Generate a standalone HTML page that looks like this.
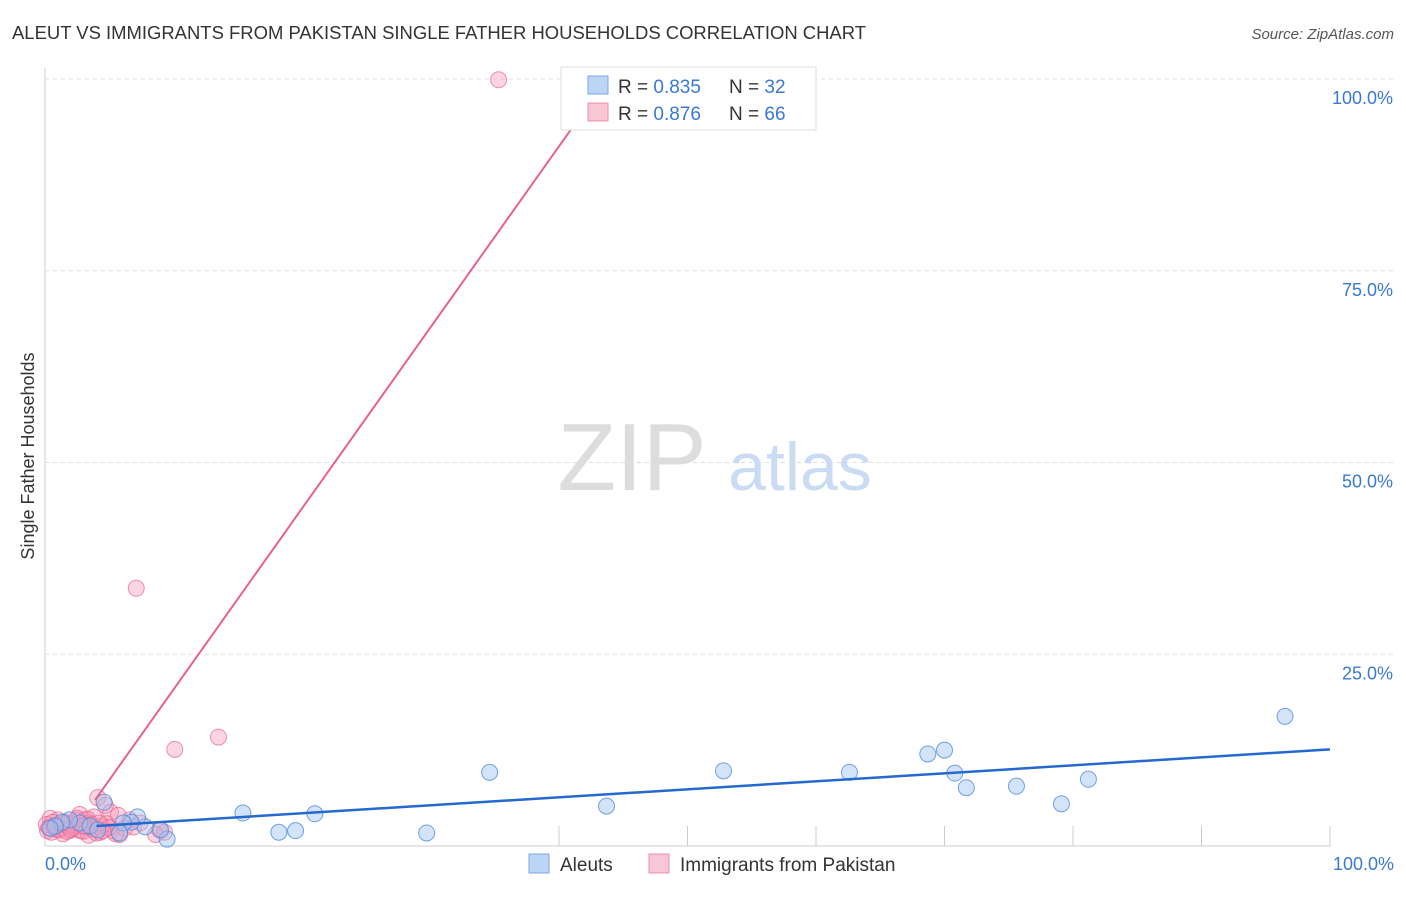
<!DOCTYPE html>
<html><head><meta charset="utf-8"><style>
body{margin:0;background:#fff;font-family:"Liberation Sans",sans-serif;}
svg text{font-family:"Liberation Sans",sans-serif;}
</style></head><body>
<svg width="1406" height="892">
<text x="12" y="39" font-size="18" fill="#333" textLength="854" lengthAdjust="spacingAndGlyphs">ALEUT VS IMMIGRANTS FROM PAKISTAN SINGLE FATHER HOUSEHOLDS CORRELATION CHART</text>
<text x="1394" y="39" font-size="15" fill="#555" text-anchor="end" font-style="italic">Source: ZipAtlas.com</text>
<g id="grid"></g>
<text x="632" y="490" font-size="96" fill="#ddd" font-family="Liberation Serif" text-anchor="middle">ZIP</text>
<text x="800" y="490" font-size="68" fill="#c9dcf3" text-anchor="middle">atlas</text>
<g id="pts"></g>
<g id="lines"></g>
<text transform="translate(34,456) rotate(-90)" font-size="18" fill="#333" text-anchor="middle">Single Father Households</text>
<text x="45" y="870" font-size="18" fill="#3a78d4">0.0%</text>
<text x="1394" y="870" font-size="18" fill="#3a78d4" text-anchor="end">100.0%</text>
<g>
<rect x="561" y="67" width="255" height="63" fill="#fff" stroke="#ddd"/>
<rect x="588" y="76" width="20" height="18" fill="#bcd5f5" stroke="#7aa7e6"/>
<rect x="588" y="103" width="20" height="18" fill="#f9c6d5" stroke="#ec8fae"/>
<text x="618" y="93" font-size="19" fill="#333">R = <tspan fill="#3a78d4">0.835</tspan></text>
<text x="729" y="93" font-size="19" fill="#333">N = <tspan fill="#3a78d4">32</tspan></text>
<text x="618" y="120" font-size="19" fill="#333">R = <tspan fill="#3a78d4">0.876</tspan></text>
<text x="729" y="120" font-size="19" fill="#333">N = <tspan fill="#3a78d4">66</tspan></text>
</g>
<g>
<rect x="529" y="854" width="20" height="19" fill="#bcd5f5" stroke="#7aa7e6"/>
<text x="560" y="871" font-size="19" fill="#333">Aleuts</text>
<rect x="649" y="854" width="20" height="19" fill="#f9c6d5" stroke="#ec8fae"/>
<text x="680" y="871" font-size="19" fill="#333">Immigrants from Pakistan</text>
</g>
</svg>
<script>
const yTicks=[25,50,75,100];
const yTickLabels=["25.0%","50.0%","75.0%","100.0%"];
const xTicks=[40,50,60,70,80,90,100];
const aleutX=[96.5,70.0,68.7,70.8,71.7,81.2,75.6,79.1,52.8,62.6,34.6,43.7,29.7,21.0,19.5,18.2,15.4,9.5,9.0,7.8,7.2,6.7,6.1,5.8,4.6,2.7,1.9,1.3,0.8,0.4,3.5,4.1];
const aleutY=[16.9,12.5,12.0,9.5,7.6,8.7,7.8,5.5,9.8,9.6,9.6,5.2,1.7,4.2,2.0,1.8,4.3,0.9,2.1,2.5,3.8,3.1,3.0,1.7,5.7,3.0,3.4,3.1,2.6,2.3,2.6,2.1];
const pakX=[35.3,7.1,10.1,13.5,4.1,4.7,5.1,5.7,6.6,8.9,9.3,0.4,0.8,1.2,1.6,1.9,2.3,2.7,3.1,3.5,3.9,4.3,0.2,0.5,1.0,1.4,1.8,2.1,2.6,3.0,3.4,3.8,4.4,5.2,5.8,6.2,7.4,8.6,0.1,0.9,1.5,2.2,2.9,3.3,3.7,4.0,4.8,5.5,6.9,1.1,2.0,2.4,2.8,3.2,0.3,0.6,1.7,2.5,3.6,4.2,5.0,0.7,1.3,2.0,3.0,4.5];
const pakY=[99.9,33.6,12.6,14.2,6.3,5.3,4.4,4.0,3.4,2.1,1.8,3.6,2.7,2.3,3.1,2.0,2.5,4.1,3.4,3.0,2.3,1.8,2.0,1.8,3.4,1.6,2.6,2.9,2.1,1.9,1.4,3.8,2.6,2.0,1.5,2.3,3.0,1.5,2.8,2.2,3.0,2.4,2.7,3.5,2.2,1.7,2.9,1.6,2.5,2.1,2.8,3.3,2.0,2.6,2.4,3.1,1.9,3.6,2.8,3.0,2.4,2.5,2.9,2.2,2.6,2.0];
const aleutLine=[[4,2.6],[100,12.6]];
const pakLine=[[3.9,6.0],[41.6,95.0]];
const pakDash=[[41.6,95.0],[42.3,97.5]];
const X=v=>45+v*12.85, Y=v=>846-v*7.67;
const NS="http://www.w3.org/2000/svg";
function mk(t,a,p){const e=document.createElementNS(NS,t);for(const k in a)e.setAttribute(k,a[k]);p.appendChild(e);return e;}
const grid=document.getElementById('grid');
const ax1=mk('line',{x1:45,y1:68,x2:45,y2:846,stroke:'#ccc'},grid);


const ax2=mk('line',{x1:45,y1:846,x2:1330,y2:846,stroke:'#ccc'},grid);


yTicks.forEach((v,i)=>{
 const l=mk('line',{x1:45,y1:Y(v),x2:1394,y2:Y(v),stroke:'#ddd','stroke-dasharray':'4,4'},grid);
 
 
 const t=mk('text',{x:1393,y:Y(v)+25,'font-size':18,fill:'#3a78d4','text-anchor':'end'},grid);
 t.textContent=yTickLabels[i];
 
 
});
xTicks.forEach(v=>{
 const l=mk('line',{x1:X(v),y1:846,x2:X(v),y2:826,stroke:'#ccc'},grid);
 
 
});
const pts=document.getElementById('pts');
pakX.forEach((x,i)=>{
 const c=mk('circle',{cx:X(x),cy:Y(pakY[i]),r:8,fill:'rgba(244,150,182,0.4)',stroke:'rgba(232,100,145,0.7)','stroke-width':1},pts);
 
 
});
aleutX.forEach((x,i)=>{
 const c=mk('circle',{cx:X(x),cy:Y(aleutY[i]),r:8,fill:'rgba(160,196,240,0.45)',stroke:'rgba(80,140,220,0.8)','stroke-width':1},pts);
 
 
});
const lines=document.getElementById('lines');
const bl=mk('line',{x1:X(aleutLine[0][0]),y1:Y(aleutLine[0][1]),x2:X(aleutLine[1][0]),y2:Y(aleutLine[1][1]),stroke:'#2468d0','stroke-width':2.5},lines);


const pl=mk('line',{x1:X(pakLine[0][0]),y1:Y(pakLine[0][1]),x2:X(pakLine[1][0]),y2:Y(pakLine[1][1]),stroke:'#e8608e','stroke-width':2},lines);


const pd=mk('line',{x1:X(pakDash[0][0]),y1:Y(pakDash[0][1]),x2:X(pakDash[1][0]),y2:Y(pakDash[1][1]),stroke:'#f0a0bc','stroke-width':1.5,'stroke-dasharray':'3,3'},lines);


</script>
</body></html>
